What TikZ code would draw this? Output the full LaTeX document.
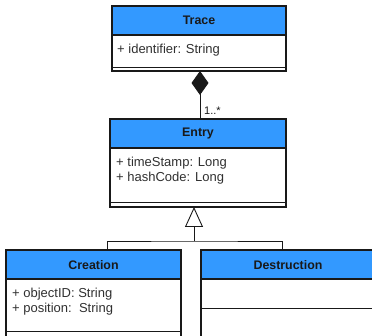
\documentclass[tikz,border=0pt]{standalone}
\usepackage{fontspec}
\setmainfont{Liberation Sans}
\usetikzlibrary{arrows.meta}
\definecolor{umlblue}{RGB}{51,153,255}
\definecolor{ink}{RGB}{25,25,25}
\begin{document}
\begin{tikzpicture}[x=1pt,y=-1pt,
  frame/.style={draw=ink, line width=1.8pt},
  hsep/.style={draw=ink, line width=1.4pt},
  sep/.style={draw=ink, line width=0.9pt},
  head/.style={fill=umlblue},
  title/.style={font=\fontsize{12.4}{14}\selectfont\bfseries, text=ink, inner sep=0},
  attr/.style={font=\fontsize{13}{15}\selectfont, text=ink!90, anchor=base west, inner sep=0},
  link/.style={draw=ink, line width=0.9pt},
]
\useasboundingbox (0,0) rectangle (372,336);
\clip (0,0) rectangle (372,336);

% connection points on the class boxes
\coordinate (traceD) at (200,71);
\coordinate (entryT) at (200,119);
\coordinate (entryB) at (194,207);
\coordinate (join) at (194,241);
\coordinate (creT) at (107,250);
\coordinate (desT) at (282,250);

% composition Trace <>-- Entry
\draw[link, {Diamond[length=24pt,width=17pt]}-] (traceD) -- (entryT);
\node[font=\fontsize{11}{12}\selectfont, text=ink, anchor=base west, inner sep=0] (mult) at (204,115) {1..*};

% generalisation Creation/Destruction --|> Entry
\draw[link, {Triangle[length=20pt,width=18pt,fill=white]}-] (entryB) -- (join);
\draw[link] (creT) |- (join) -| (desT);

% class Trace
\fill[head] (112,6) rectangle (286,35);
\draw[hsep] (112,35) -- (286,35);
\draw[sep] (112,67) -- (286,67);
\draw[frame] (112,6) rectangle (286,71);
\node[title] (traceTitle) at (199,20.5) {Trace};
\node[attr] (traceA1) at (117,54) {+ identifier: String};

% class Entry
\fill[head] (110,119) rectangle (286,148);
\draw[hsep] (110,148) -- (286,148);
\draw[sep] (110,202) -- (286,202);
\draw[frame] (110,119) rectangle (286,207);
\node[title] (entryTitle) at (198,134) {Entry};
\node[attr] (entryA1) at (116,167) {+ timeStamp: Long};
\node[attr] (entryA2) at (116,182) {+ hashCode: Long};

% class Creation
\fill[head] (6,250) rectangle (181,279);
\draw[hsep] (6,279) -- (181,279);
\draw[sep] (6,331) -- (181,331);
\draw[frame] (6,250) rectangle (181,350);
\node[title] (creTitle) at (93.5,265) {Creation};
\node[attr] (creA1) at (12,298) {+ objectID: String};
\node[attr] (creA2) at (12,313) {+ position:\ \ String};

% class Destruction
\fill[head] (201,250) rectangle (376,279);
\draw[hsep] (201,279) -- (376,279);
\draw[sep] (201,308) -- (376,308);
\draw[frame] (201,250) rectangle (376,350);
\node[title] (desTitle) at (288,265) {Destruction};
\end{tikzpicture}
\end{document}
